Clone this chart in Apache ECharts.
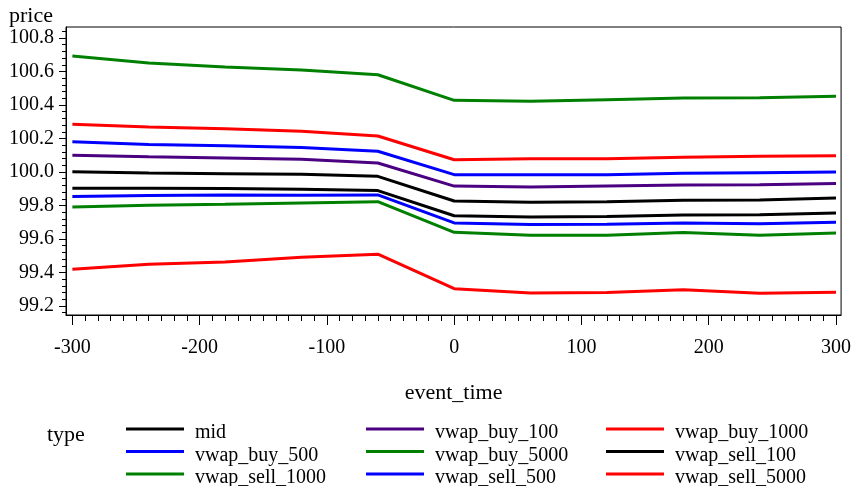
<!DOCTYPE html>
<html>
<head>
<meta charset="utf-8">
<script src="https://cdn.jsdelivr.net/npm/echarts@6/dist/echarts.min.js"></script>
<style>
  html, body { margin: 0; padding: 0; background: #fff; }
  #chart { width: 854px; height: 486px; }
</style>
</head>
<body>
<div id="chart"></div>
<script>
(function () {
    'use strict';

    // event time (x) for every point
    var eventTimes = [-300, -240, -180, -120, -60, 0, 60, 120, 180, 240, 300];

    // price per series
    var mid            = [100.002, 99.994, 99.990, 99.986, 99.974, 99.827, 99.819, 99.823, 99.831, 99.833, 99.845];
    var vwapBuy100     = [100.100, 100.091, 100.084, 100.076, 100.054, 99.916, 99.910, 99.916, 99.922, 99.924, 99.932];
    var vwapBuy1000    = [100.285, 100.269, 100.259, 100.243, 100.215, 100.073, 100.079, 100.079, 100.088, 100.094, 100.097];
    var vwapBuy500     = [100.181, 100.165, 100.157, 100.147, 100.124, 99.984, 99.984, 99.984, 99.992, 99.996, 100.000];
    var vwapBuy5000    = [100.693, 100.651, 100.627, 100.609, 100.581, 100.428, 100.422, 100.432, 100.442, 100.444, 100.452];
    var vwapSell100    = [99.903, 99.903, 99.901, 99.897, 99.889, 99.739, 99.731, 99.735, 99.743, 99.745, 99.755];
    var vwapSell1000   = [99.791, 99.801, 99.807, 99.815, 99.823, 99.640, 99.622, 99.622, 99.638, 99.622, 99.636];
    var vwapSell500    = [99.853, 99.859, 99.863, 99.861, 99.863, 99.696, 99.686, 99.688, 99.696, 99.691, 99.700];
    var vwapSell5000   = [99.419, 99.449, 99.463, 99.491, 99.509, 99.303, 99.278, 99.280, 99.297, 99.276, 99.282];

    var seriesNames  = ['mid', 'vwap_buy_100', 'vwap_buy_1000', 'vwap_buy_500', 'vwap_buy_5000',
                        'vwap_sell_100', 'vwap_sell_1000', 'vwap_sell_500', 'vwap_sell_5000'];
    var seriesValues = [mid, vwapBuy100, vwapBuy1000, vwapBuy500, vwapBuy5000,
                        vwapSell100, vwapSell1000, vwapSell500, vwapSell5000];
    var seriesColors = ['#000000', '#4B0082', '#FF0000', '#0000FF', '#008000',
                        '#000000', '#008000', '#0000FF', '#FF0000'];

    // tick labels
    var xMajorTicks = [-300, -200, -100, 0, 100, 200, 300];
    var yMajorTicks = [99.2, 99.4, 99.6, 99.8, 100.0, 100.2, 100.4, 100.6, 100.8];

    var xMinorTicks = [];
    for (var t = -300; t <= 300; t += 10) { xMinorTicks.push(t); }
    var yMinorTicks = [];
    for (var k = 0; k <= 42; k++) { yMinorTicks.push(+(99.16 + k * 0.04).toFixed(2)); }

    var FONT = 'Liberation Serif';

    function buildSeries() {
        var list = [];
        seriesNames.forEach(function (name, i) {
            var pts = eventTimes.map(function (x, j) { return [x, seriesValues[i][j]]; });
            list.push({
                name: name,
                type: 'line',
                data: pts,
                symbol: 'none',
                showSymbol: false,
                color: seriesColors[i],
                lineStyle: { color: seriesColors[i], width: 3 },
                z: 10 - i
            });
        });
        return list;
    }

    function legendCol(left, names) {
        return {
            orient: 'vertical',
            left: left,
            top: 415,
            height: 90,
            data: names,
            icon: 'rect',
            itemWidth: 58,
            itemHeight: 3,
            itemGap: -5.5,
            padding: 0,
            selectedMode: false,
            formatter: '{t|{name}}',
            textStyle: {
                fontFamily: FONT, fontSize: 20, color: '#000',
                rich: {
                    t: { fontFamily: FONT, fontSize: 20, color: '#000', lineHeight: 14.5, padding: [8, 0, 0, 6] }
                }
            }
        };
    }

    var myChart = echarts.init(document.getElementById('chart'), null, { renderer: 'canvas' });

    var option = {
        animation: false,
        backgroundColor: '#fff',
        title: [
            { text: 'price', left: 9, top: 5, padding: 0,
              textStyle: { fontFamily: FONT, fontSize: 22, fontWeight: 'normal', color: '#000' } },
            { text: 'type', left: 47, top: 424, padding: 0,
              textStyle: { fontFamily: FONT, fontSize: 22, fontWeight: 'normal', color: '#000' } }
        ],
        grid: {
            left: 66, right: 12, top: 27, bottom: 171,
            show: true, borderColor: '#000', borderWidth: 1, backgroundColor: '#fff'
        },
        legend: [
            legendCol(126, ['mid', 'vwap_buy_500', 'vwap_sell_1000']),
            legendCol(366, ['vwap_buy_100', 'vwap_buy_5000', 'vwap_sell_500']),
            legendCol(606, ['vwap_buy_1000', 'vwap_sell_100', 'vwap_sell_5000'])
        ],
        xAxis: [
            {
                type: 'value', min: -305, max: 304, position: 'bottom',
                name: 'event_time', nameLocation: 'middle', nameGap: 67,
                nameTextStyle: { fontFamily: FONT, fontSize: 22, color: '#000' },
                axisLine: { show: true, onZero: false, lineStyle: { color: '#000', width: 1 } },
                axisTick: { show: true, length: 10, customValues: xMajorTicks, lineStyle: { color: '#000' } },
                axisLabel: { customValues: xMajorTicks, margin: 23, fontFamily: FONT, fontSize: 20, color: '#000' },
                splitLine: { show: false }
            },
            {
                type: 'value', min: -305, max: 304, position: 'bottom',
                axisLine: { show: false, onZero: false },
                axisTick: { show: true, length: 6, customValues: xMinorTicks, lineStyle: { color: '#000' } },
                axisLabel: { show: false },
                splitLine: { show: false }
            }
        ],
        yAxis: [
            {
                type: 'value', min: 99.146, max: 100.866, position: 'left',
                axisLine: { show: true, onZero: false, lineStyle: { color: '#000', width: 1 } },
                axisTick: { show: true, length: 7, customValues: yMajorTicks, lineStyle: { color: '#000' } },
                axisLabel: {
                    customValues: yMajorTicks, margin: 12, fontFamily: FONT, fontSize: 20, color: '#000',
                    formatter: function (v) { return v.toFixed(1); }
                },
                splitLine: { show: false }
            },
            {
                type: 'value', min: 99.146, max: 100.866, position: 'left',
                axisLine: { show: false, onZero: false },
                axisTick: { show: true, length: 4, customValues: yMinorTicks, lineStyle: { color: '#000' } },
                axisLabel: { show: false },
                splitLine: { show: false }
            }
        ],
        series: buildSeries()
    };

    myChart.setOption(option);
})();
</script>
</body>
</html>
